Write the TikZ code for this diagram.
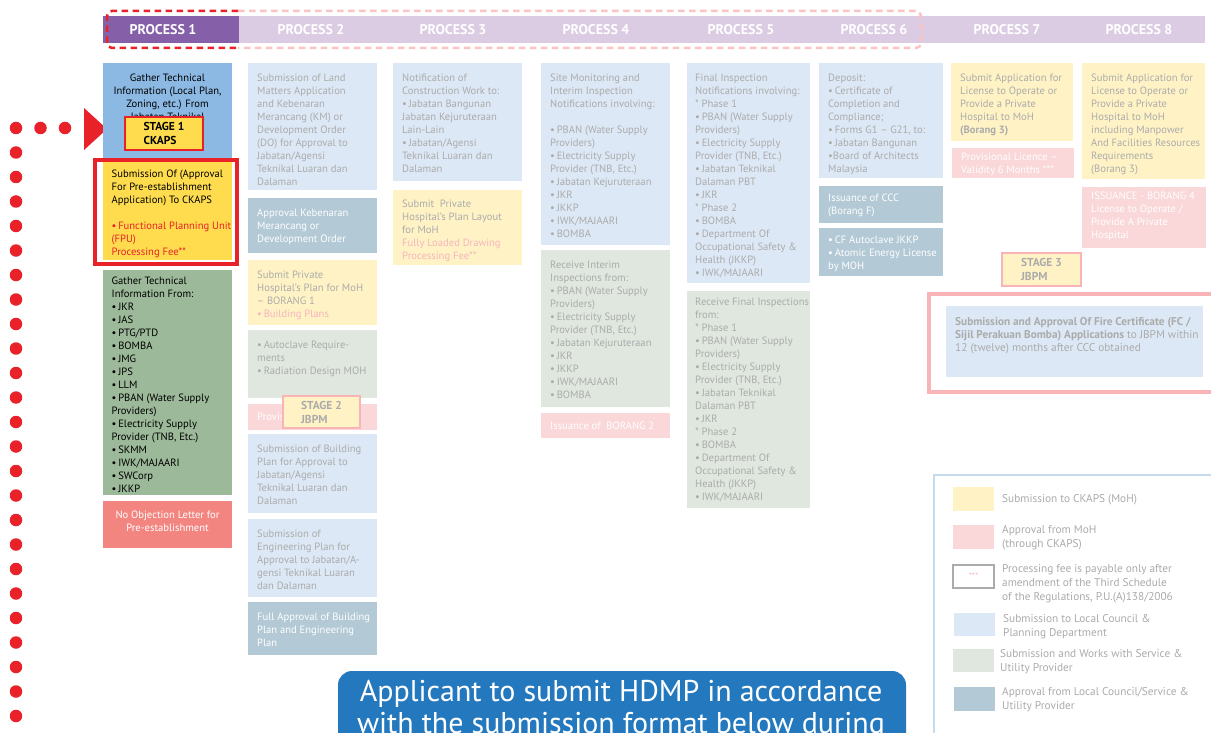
\documentclass[tikz,border=0pt]{standalone}
\usepackage{fontspec}
\setmainfont{PT Sans}
\usetikzlibrary{fit}
\definecolor{purp}{HTML}{8560A8}
\definecolor{lav}{HTML}{DBCCE4}
\definecolor{cblue}{HTML}{8CB9E3}
\definecolor{ylw}{HTML}{FEDC4E}
\definecolor{cgreen}{HTML}{9CB999}
\definecolor{salmon}{HTML}{F38580}
\definecolor{lblue}{HTML}{DCE8F5}
\definecolor{steel}{HTML}{B3C9D5}
\definecolor{lylw}{HTML}{FFF3C5}
\definecolor{lgreen}{HTML}{DFE7DF}
\definecolor{lpink}{HTML}{FAD7D8}
\definecolor{gtext}{HTML}{ABABAB}
\definecolor{ptext}{HTML}{F6B4BF}
\definecolor{rred}{HTML}{E92129}
\definecolor{spink}{HTML}{F8B4B6}
\definecolor{dashpink}{HTML}{FBC3C3}
\definecolor{legb}{HTML}{C5DAEC}
\definecolor{hblue}{HTML}{2478BE}
\tikzset{
  bx/.style={inner sep=0pt, outer sep=0pt, draw=none},
  tx/.style={anchor=north west, inner sep=0pt, align=left, font=\fontsize{10.6}{13}\selectfont, text=gtext},
  txc/.style={anchor=north, inner sep=0pt, align=center, font=\fontsize{10.6}{13}\selectfont},
  hd/.style={inner sep=0pt, text=white, font=\bfseries\fontsize{14}{14}\selectfont},
  stg/.style={inner sep=0pt, align=left, font=\bfseries\fontsize{11.5}{14}\selectfont},
  lg/.style={anchor=north west, inner sep=0pt, align=left, font=\fontsize{11.3}{14}\selectfont, text=gtext},
}
\newcommand\bu{•\,}
\begin{document}
\begin{tikzpicture}[x=1pt,y=-1pt]
\useasboundingbox (0,0) rectangle (1211,733);
\fill[white] (0,0) rectangle (1211,733);
% header
\node[bx, fill=lav, fit={(239,16)(1205,43)}] (bar) {};
\node[bx, fill=purp, fit={(103,16)(239,43)}] (p1) {};
\foreach \i/\x in {1/163,2/311,3/453,4/596,5/741,6/874,7/1007,8/1139}
  \node[hd] (ph\i) at (\x,30) {PROCESS \i};
\draw[dashpink, line width=2.5, dash pattern=on 6.5pt off 4.5pt, rounded corners=5] (238,11) -- (921,11) -- (921,48) -- (238,48);
\draw[rred, line width=2.5, dash pattern=on 6.5pt off 4.5pt, rounded corners=5] (238,11) -- (107,11) -- (107,48) -- (238,48);

% left dotted line and arrow
\draw[rred, line width=12.5, line cap=round, dash pattern=on 0pt off 24.5pt] (65,128) -- (16,128) -- (16,760);
\fill[rred] (84,108) -- (107,129) -- (84,150) -- cycle;

% column 1
\node[bx, fill=cblue, fit={(103,63)(232,159)}] (a1) {};
\node[txc] (a1t) at ([yshift=-11pt]a1.north) {Gather Technical\\Information (Local Plan,\\Zoning, etc.) From\\Jabatan Teknikal};
\node[bx, fill=ylw, draw=rred, line width=1.3, fit={(125,117)(203,150)}] (s1) {};
\node[stg] (s1t) at (s1.center) {STAGE 1\\CKAPS};
\draw[rred, line width=4] (95,160) rectangle (237,264);
\node[bx, fill=ylw, fit={(103,162)(232,260)}] (a2) {};
\node[tx, text=black] (a2t) at ([shift={(8.5pt,-8pt)}]a2.north west) {Submission Of (Approval\\For Pre-establishment\\Application) To CKAPS\\[13pt]\textcolor{rred}{\bu Functional Planning Unit}\\\textcolor{rred}{(FPU)}\\\textcolor{rred}{Processing Fee**}};
\node[bx, fill=cgreen, fit={(103,270)(232,495)}] (a3) {};
\node[tx, text=black] (a3t) at ([shift={(8.5pt,-7pt)}]a3.north west) {Gather Technical\\Information From:\\\bu JKR\\\bu JAS\\\bu PTG/PTD\\\bu BOMBA\\\bu JMG\\\bu JPS\\\bu LLM\\\bu PBAN (Water Supply\\Providers)\\\bu Electricity Supply\\Provider (TNB, Etc.)\\\bu SKMM\\\bu IWK/MAJAARI\\\bu SWCorp\\\bu JKKP};
\node[bx, fill=salmon, fit={(103,501)(232,548)}] (a4) {};
\node[txc, text=white] (a4t) at ([yshift=-10pt]a4.north) {No Objection Letter for\\Pre-establishment};

% column 2
\node[bx, fill=lblue, fit={(248,63)(377,190)}] (b1) {};
\node[tx] (b1t) at ([shift={(9pt,-11pt)}]b1.north west) {Submission of Land\\Matters Application\\and Kebenaran\\Merancang (KM) or\\Development Order\\(DO) for Approval to\\Jabatan/Agensi\\Teknikal Luaran dan\\Dalaman};
\node[bx, fill=steel, fit={(248,198)(377,253)}] (b2) {};
\node[tx, text=white] (b2t) at ([shift={(9pt,-11pt)}]b2.north west) {Approval Kebenaran\\Merancang or\\Development Order};
\node[bx, fill=lylw, fit={(248,260)(377,325)}] (b3) {};
\node[tx] (b3t) at ([shift={(9pt,-11pt)}]b3.north west) {Submit Private\\Hospital’s Plan for MoH\\– BORANG 1\\\textcolor{ptext}{\bu Building Plans}};
\node[bx, fill=lgreen, fit={(248,330)(377,398)}] (b4) {};
\node[tx] (b4t) at ([shift={(9pt,-11pt)}]b4.north west) {\bu Autoclave Require-\\ments\\\bu Radiation Design MOH};
\node[bx, fill=lpink, fit={(248,404)(377,430)}] (b5) {};
\node[tx, text=white, anchor=west] (b5t) at ([xshift=9pt]b5.west) {Provis};
\node[bx, fill=lylw, draw=spink, line width=1.3, fit={(283,396)(360,428)}] (s2) {};
\node[stg, text=gtext] (s2t) at (s2.center) {STAGE 2\\JBPM};
\node[bx, fill=lblue, fit={(248,434)(377,513)}] (b6) {};
\node[tx] (b6t) at ([shift={(9pt,-11pt)}]b6.north west) {Submission of Building\\Plan for Approval to\\Jabatan/Agensi\\Teknikal Luaran dan\\Dalaman};
\node[bx, fill=lblue, fit={(248,519)(377,597)}] (b7) {};
\node[tx] (b7t) at ([shift={(9pt,-11pt)}]b7.north west) {Submission of\\Engineering Plan for\\Approval to Jabatan/A-\\gensi Teknikal Luaran\\dan Dalaman};
\node[bx, fill=steel, fit={(248,602)(377,655)}] (b8) {};
\node[tx, text=white] (b8t) at ([shift={(9pt,-11pt)}]b8.north west) {Full Approval of Building\\Plan and Engineering\\Plan};

% column 3
\node[bx, fill=lblue, fit={(393,63)(522,181)}] (c1) {};
\node[tx] (c1t) at ([shift={(9pt,-11pt)}]c1.north west) {Notification of\\Construction Work to:\\\bu Jabatan Bangunan\\Jabatan Kejuruteraan\\Lain-Lain\\\bu Jabatan/Agensi\\Teknikal Luaran dan\\Dalaman};
\node[bx, fill=lylw, fit={(393,190)(522,265)}] (c2) {};
\node[tx] (c2t) at ([shift={(9pt,-10pt)}]c2.north west) {Submit~ Private\\Hospital’s Plan Layout\\for MoH\\\textcolor{ptext}{Fully Loaded Drawing}\\\textcolor{ptext}{Processing Fee**}};

% column 4
\node[bx, fill=lblue, fit={(541,63)(670,245)}] (d1) {};
\node[tx] (d1t) at ([shift={(9pt,-11pt)}]d1.north west) {Site Monitoring and\\Interim Inspection\\Notifications involving:\\[13pt]\bu PBAN (Water Supply\\Providers)\\\bu Electricity Supply\\Provider (TNB, Etc.)\\\bu Jabatan Kejuruteraan\\\bu JKR\\\bu JKKP\\\bu IWK/MAJAARI\\\bu BOMBA};
\node[bx, fill=lgreen, fit={(541,250)(670,407)}] (d2) {};
\node[tx] (d2t) at ([shift={(9pt,-11pt)}]d2.north west) {Receive Interim\\Inspections from:\\\bu PBAN (Water Supply\\Providers)\\\bu Electricity Supply\\Provider (TNB, Etc.)\\\bu Jabatan Kejuruteraan\\\bu JKR\\\bu JKKP\\\bu IWK/MAJAARI\\\bu BOMBA};
\node[bx, fill=lpink, fit={(541,413)(670,438)}] (d3) {};
\node[tx, text=white, anchor=west] (d3t) at ([xshift=9pt]d3.west) {Issuance of~ BORANG 2};

% column 5
\node[bx, fill=lblue, fit={(687,63)(810,283)}] (e1) {};
\node[tx] (e1t) at ([shift={(8pt,-11pt)}]e1.north west) {Final Inspection\\Notifications involving:\\* Phase 1\\\bu PBAN (Water Supply\\Providers)\\\bu Electricity Supply\\Provider (TNB, Etc.)\\\bu Jabatan Teknikal\\Dalaman PBT\\\bu JKR\\* Phase 2\\\bu BOMBA\\\bu Department Of\\Occupational Safety \&\\Health (JKKP)\\\bu IWK/MAJAARI};
\node[bx, fill=lgreen, fit={(687,291)(810,508)}] (e2) {};
\node[tx] (e2t) at ([shift={(8pt,-7pt)}]e2.north west) {Receive Final Inspections\\from:\\* Phase 1\\\bu PBAN (Water Supply\\Providers)\\\bu Electricity Supply\\Provider (TNB, Etc.)\\\bu Jabatan Teknikal\\Dalaman PBT\\\bu JKR\\* Phase 2\\\bu BOMBA\\\bu Department Of\\Occupational Safety \&\\Health (JKKP)\\\bu IWK/MAJAARI};

% column 6
\node[bx, fill=lblue, fit={(819,63)(943,178)}] (f1) {};
\node[tx] (f1t) at ([shift={(9pt,-11pt)}]f1.north west) {Deposit:\\\bu Certificate of\\Completion and\\Compliance;\\\bu Forms G1 – G21, to:\\\bu Jabatan Bangunan\\•Board of Architects\\Malaysia};
\node[bx, fill=steel, fit={(819,186)(943,223)}] (f2) {};
\node[tx, text=white] (f2t) at ([shift={(9pt,-8pt)}]f2.north west) {Issuance of CCC\\(Borang F)};
\node[bx, fill=steel, fit={(819,228)(943,276)}] (f3) {};
\node[tx, text=white] (f3t) at ([shift={(9pt,-8pt)}]f3.north west) {\bu CF Autoclave JKKP\\\bu Atomic Energy License\\by MOH};

% column 7
\node[bx, fill=lylw, fit={(951,63)(1073,141)}] (g1) {};
\node[tx] (g1t) at ([shift={(9pt,-11pt)}]g1.north west) {Submit Application for\\License to Operate or\\Provide a Private\\Hospital to MoH\\\textbf{(Borang 3)}};
\node[bx, fill=lpink, fit={(952,148)(1074,178)}] (g2) {};
\node[tx, text=white] (g2t) at ([shift={(9pt,-5pt)}]g2.north west) {Provisional Licence –\\Validity 6 Months ***};

% column 8
\node[bx, fill=lylw, fit={(1082,63)(1205,179)}] (h1) {};
\node[tx] (h1t) at ([shift={(9pt,-11pt)}]h1.north west) {Submit Application for\\License to Operate or\\Provide a Private\\Hospital to MoH\\including Manpower\\And Facilities Resources\\Requirements\\(Borang 3)};
\node[bx, fill=lpink, fit={(1082,187)(1206,248)}] (h2) {};
\node[tx, text=white] (h2t) at ([shift={(9pt,-5pt)}]h2.north west) {ISSUANCE - BORANG 4\\License to Operate /\\Provide A Private\\Hospital};

% stage 3 and fire certificate
\node[bx, fill=lylw, draw=spink, line width=1.3, fit={(1002,253)(1081,286)}] (s3) {};
\node[stg, text=gtext] (s3t) at (s3.center) {STAGE 3\\JBPM};
\draw[spink, line width=4] (929,294) rectangle (1220,392);
\node[bx, fill=lblue, fit={(946,306)(1203,377)}] (fc) {};
\node[tx, font=\fontsize{11.3}{13}\selectfont] (fct) at ([shift={(9pt,-11pt)}]fc.north west) {\textbf{Submission and Approval Of Fire Certificate (FC /}\\\textbf{Sijil Perakuan Bomba) Applications} to JBPM within\\12 (twelve) months after CCC obtained};

% legend
\draw[legb, line width=1.5] (934,760) -- (934,475) -- (1220,475);
\node[bx, fill=lylw, fit={(953,487)(994,511)}] (l1) {};
\node[lg] (l1t) at (1002,494) {Submission to CKAPS (MoH)};
\node[bx, fill=lpink, fit={(953,525)(994,549)}] (l2) {};
\node[lg] (l2t) at (1002,525) {Approval from MoH\\(through CKAPS)};
\node[bx, fill=white, draw=gtext, line width=1.2, fit={(953,565)(994,588)}] (l3) {};
\node[inner sep=0pt, text=ptext, font=\fontsize{9}{10}\selectfont] (l3s) at (l3.center) {***};
\node[lg] (l3t) at (1002,564) {Processing fee is payable only after\\amendment of the Third Schedule\\of the Regulations, P.U.(A)138/2006};
\node[bx, fill=lblue, fit={(954,613)(995,636)}] (l4) {};
\node[lg] (l4t) at (1003,614) {Submission to Local Council \&\\Planning Department};
\node[bx, fill=lgreen, fit={(953,649)(994,672)}] (l5) {};
\node[lg] (l5t) at (1000,649) {Submission and Works with Service \&\\Utility Provider};
\node[bx, fill=steel, fit={(954,687)(995,711)}] (l6) {};
\node[lg] (l6t) at (1002,687) {Approval from Local Council/Service \&\\Utility Provider};

% bottom banner
\node[bx, fill=hblue, rounded corners=14pt, fit={(338,671)(906,770)}] (ban) {};
\node[txc, text=white, font=\fontsize{30}{32}\selectfont] (bant) at (621,680) {Applicant to submit HDMP in accordance\\with the submission format below during};
\end{tikzpicture}
\end{document}
